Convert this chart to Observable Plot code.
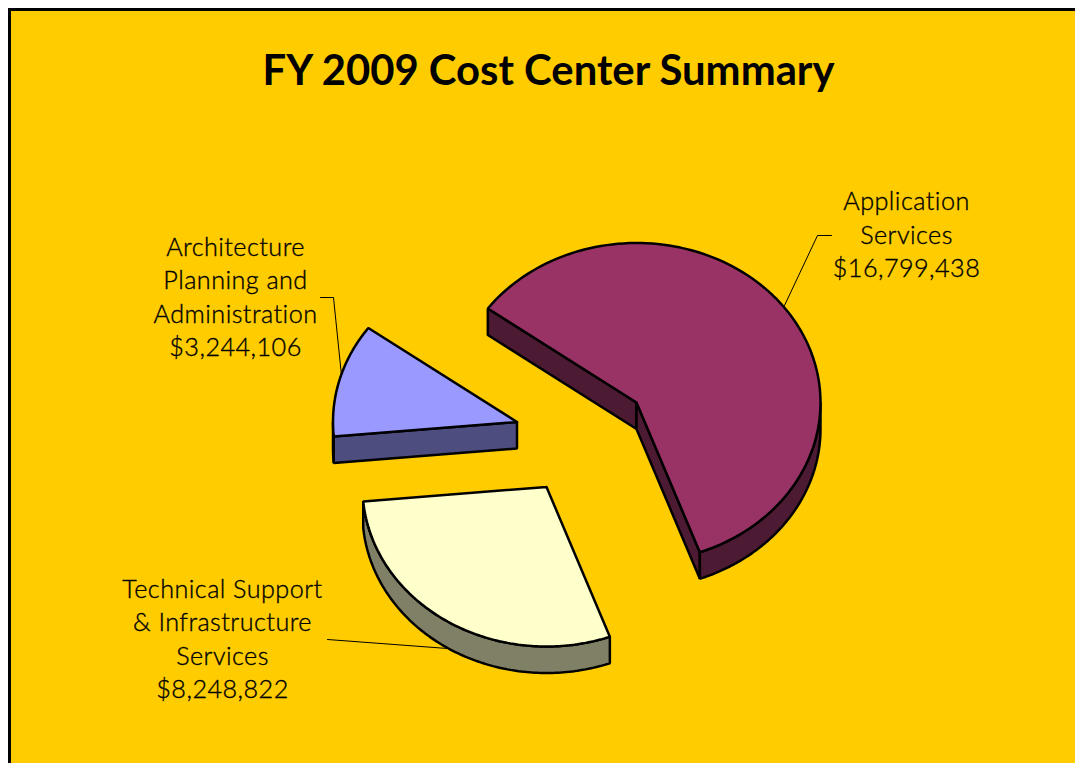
<!DOCTYPE html>
<html>
<head>
<meta charset="utf-8">
<script src="https://cdn.jsdelivr.net/npm/d3@7"></script>
<script src="https://cdn.jsdelivr.net/npm/@observablehq/plot@0.6"></script>
<style>
html,body{margin:0;padding:0;background:#fff;overflow:hidden}
svg{display:block}
.slice-label{letter-spacing:.45px}
</style>
</head>
<body>
<div id="chart"></div>
<script>
// Data
const chartTitle = "FY 2009 Cost Center Summary";
const categories = ["Application\nServices", "Technical Support\n& Infrastructure\nServices", "Architecture\nPlanning and\nAdministration"];
const costs = [16799438, 8248822, 3244106];
const topColors = ["#993366", "#FFFFCC", "#9999FF"];
const sideColors = ["#4D1A33", "#808066", "#4D4D80"];

// Layout of the 3D exploded pie
const W = 1075, H = 763;
const rx = 184, ry = 159.5, depth = 26.5;
const firstAngle = 306.1 * Math.PI / 180;
const centers = [[636, 402], [546, 486.5], [516.5, 421.5]];
const labelAt = [[906, 232.5], [222, 637], [235, 295]];
const leaders = [
  [[784, 305], [817, 235], [831, 235]],
  [[447, 648], [327, 639]],
  [[341, 375], [333, 297], [320, 297]]
];

const pie = d3.pie().sort(null).startAngle(firstAngle).endAngle(firstAngle + 2 * Math.PI)(costs);
const pt = (c, a, dz = 0) => [c[0] + rx * Math.sin(a), c[1] - ry * Math.cos(a) + dz];
const arc = (c, a0, a1, dz = 0) => d3.range(0, 121).map(i => pt(c, a0 + (a1 - a0) * i / 120, dz));

// Build polygons; each row keeps its order so that later shapes paint over earlier ones.
const shapes = [];
pie.forEach((s, i) => {
  const c = centers[i];
  // radial walls, only those facing the viewer
  const wall = a => ({pts: [c, pt(c, a), pt(c, a, depth), [c[0], c[1] + depth]], fill: sideColors[i]});
  if (Math.sin(s.startAngle) < 0) shapes.push(wall(s.startAngle));
  if (Math.sin(s.endAngle) > 0) shapes.push(wall(s.endAngle));
  // outer rim: only the front half of the ellipse is visible
  const twoPi = 2 * Math.PI;
  for (const k of [0, 1]) {
    const lo = Math.max(s.startAngle, Math.PI / 2 + k * twoPi);
    const hi = Math.min(s.endAngle, 3 * Math.PI / 2 + k * twoPi);
    if (hi > lo) shapes.push({pts: [...arc(c, lo, hi), ...arc(c, hi, lo, depth)], fill: sideColors[i]});
  }
  // top face
  shapes.push({pts: [c, ...arc(c, s.startAngle, s.endAngle)], fill: topColors[i]});
});
const polyRows = shapes.flatMap((s, id) => [...s.pts, s.pts[0]].map(p => ({x: p[0], y: p[1], id})));
const leaderRows = leaders.flatMap((l, id) => l.map(p => ({x: p[0], y: p[1], id})));
const labelRows = categories.map((name, i) => ({
  text: name + "\n" + d3.format("$,")(costs[i]), x: labelAt[i][0], y: labelAt[i][1]
}));

const fontFamily = "Lato, 'Open Sans', sans-serif";
const chart = Plot.plot({
  width: W, height: H, margin: 0,
  style: {background: "#fff", fontFamily},
  x: {domain: [0, W], range: [0, W], axis: null},
  y: {domain: [0, H], range: [0, H], axis: null},
  marks: [
    Plot.rect([{x1: 9.5, x2: W + 20, y1: 9.5, y2: H + 20}], {
      x1: "x1", x2: "x2", y1: "y1", y2: "y2", fill: "#FFCC00", stroke: "#000", strokeWidth: 3
    }),
    Plot.line(leaderRows, {x: "x", y: "y", z: "id", stroke: "#000", strokeWidth: 1, curve: "linear"}),
    ...shapes.map((s, id) => Plot.line(polyRows.filter(r => r.id === id), {
      x: "x", y: "y", fill: s.fill, stroke: "#000", strokeWidth: 2.5, strokeLinejoin: "miter", curve: "linear"
    })),
    Plot.text(labelRows, {
      x: "x", y: "y", text: "text", fontSize: 25.2, fontWeight: 300, lineHeight: 1.33, textAnchor: "middle",
      lineAnchor: "middle", fill: "#000", stroke: "#000", strokeWidth: 0.35, fontFamily, className: "slice-label"
    }),
    Plot.text([chartTitle], {
      x: () => 548, y: () => 71, text: d => d, fontSize: 41.8, fontWeight: 700, textAnchor: "middle",
      lineAnchor: "middle", fill: "#000", fontFamily
    })
  ]
});
document.getElementById("chart").append(chart);
</script>
</body>
</html>
